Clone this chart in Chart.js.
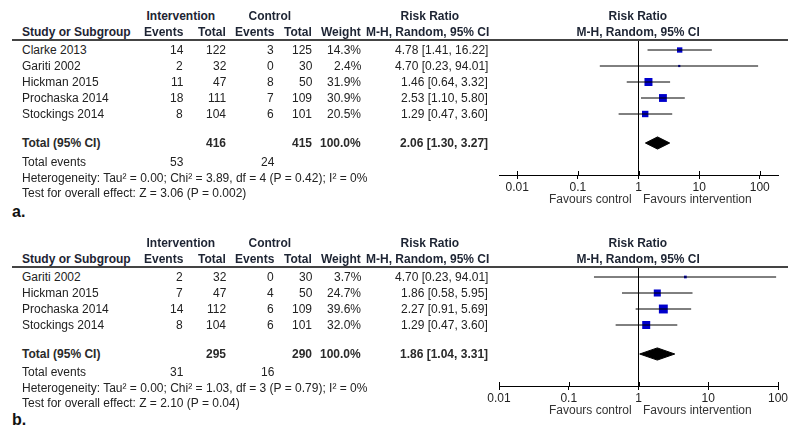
<!DOCTYPE html>
<html>
<head>
<meta charset="utf-8">
<script src="https://cdn.jsdelivr.net/npm/chart.js@4.4.1/dist/chart.umd.min.js"></script>
<style>
  html, body { margin:0; padding:0; background:#fff; }
  body { width:800px; height:438px; position:relative; overflow:hidden;
         font-family:"Liberation Sans", Arial, sans-serif; font-size:12px; color:#222; }
  .t { position:absolute; white-space:nowrap; line-height:14px; height:14px; }
  .b { font-weight:bold; }
  .hl { position:absolute; height:2px; background:#444; }
  .lab { position:absolute; font-weight:bold; font-size:16px; line-height:18px; color:#111; }
  canvas { position:absolute; }
</style>
</head>
<body>
<canvas id="chartA" width="320" height="220" style="left:480px;top:0px;"></canvas>
<canvas id="chartB" width="320" height="218" style="left:480px;top:220px;"></canvas>
<script>
// ---------- Panel a data ----------
const studiesA    = ["Clarke 2013", "Gariti 2002", "Hickman 2015", "Prochaska 2014", "Stockings 2014"];
const intEventsA  = [14, 2, 11, 18, 8];
const intTotalA   = [122, 32, 47, 111, 104];
const ctrlEventsA = [3, 0, 8, 7, 6];
const ctrlTotalA  = [125, 30, 50, 109, 101];
const weightA     = [14.3, 2.4, 31.9, 30.9, 20.5];
const rrA         = [4.78, 4.70, 1.46, 2.53, 1.29];
const loA         = [1.41, 0.23, 0.64, 1.10, 0.47];
const hiA         = [16.22, 94.01, 3.32, 5.80, 3.60];
const pooledA     = [2.06, 1.30, 3.27];           // estimate, lower, upper
const totalsA     = [416, 415];                   // intervention, control
const totalEventsA = [53, 24];
const hetA  = "Heterogeneity: Tau\u00b2 = 0.00; Chi\u00b2 = 3.89, df = 4 (P = 0.42); I\u00b2 = 0%";
const testA = "Test for overall effect: Z = 3.06 (P = 0.002)";

// ---------- Panel b data ----------
const studiesB    = ["Gariti 2002", "Hickman 2015", "Prochaska 2014", "Stockings 2014"];
const intEventsB  = [2, 7, 14, 8];
const intTotalB   = [32, 47, 112, 104];
const ctrlEventsB = [0, 4, 6, 6];
const ctrlTotalB  = [30, 50, 109, 101];
const weightB     = [3.7, 24.7, 39.6, 32.0];
const rrB         = [4.70, 1.86, 2.27, 1.29];
const loB         = [0.23, 0.58, 0.91, 0.47];
const hiB         = [94.01, 5.95, 5.69, 3.60];
const pooledB     = [1.86, 1.04, 3.31];
const totalsB     = [295, 290];
const totalEventsB = [31, 16];
const hetB  = "Heterogeneity: Tau\u00b2 = 0.00; Chi\u00b2 = 1.03, df = 3 (P = 0.79); I\u00b2 = 0%";
const testB = "Test for overall effect: Z = 2.10 (P = 0.04)";

const tickValues = [0.01, 0.1, 1, 10, 100];
const favourLabels = ["Favours control", "Favours intervention"];

// ---------- helpers ----------
function txt(s, x, y, align, bold, color) {
  const d = document.createElement('div');
  d.className = 't' + (bold ? ' b' : '');
  d.textContent = s;
  d.style.top = (y - 7) + 'px';
  if (color) d.style.color = color;
  document.body.appendChild(d);
  if (align === 'right') d.style.left = (x - d.offsetWidth) + 'px';
  else if (align === 'center') d.style.left = (x - d.offsetWidth / 2) + 'px';
  else d.style.left = x + 'px';
  return d;
}
const fmtCI = (r, l, h) => r.toFixed(2) + " [" + l.toFixed(2) + ", " + h.toFixed(2) + "]";

function buildTable(p, L) {
  const hc = '#1d2433';
  txt("Intervention", 181, L.h1, 'center', true, hc);
  txt("Control", 270, L.h1, 'center', true, hc);
  txt("Risk Ratio", 430, L.h1, 'center', true, hc);
  txt("Risk Ratio", 638, L.h1, 'center', true, hc);
  txt("Study or Subgroup", 22, L.h2, 'left', true, hc);
  txt("Events", 183, L.h2, 'right', true, hc);
  txt("Total", 226, L.h2, 'right', true, hc);
  txt("Events", 274, L.h2, 'right', true, hc);
  txt("Total", 312, L.h2, 'right', true, hc);
  txt("Weight", 361, L.h2, 'right', true, hc);
  txt("M-H, Random, 95% CI", 489, L.h2, 'right', true, hc);
  txt("M-H, Random, 95% CI", 638, L.h2, 'center', true, hc);
  const line = document.createElement('div');
  line.className = 'hl';
  line.style.left = '12px'; line.style.width = '776px'; line.style.top = (L.line - 1) + 'px';
  document.body.appendChild(line);
  p.studies.forEach((s, i) => {
    const y = L.row0 + 16 * i;
    txt(s, 22, y, 'left');
    txt(String(p.intEvents[i]), 183, y, 'right');
    txt(String(p.intTotal[i]), 226, y, 'right');
    txt(String(p.ctrlEvents[i]), 274, y, 'right');
    txt(String(p.ctrlTotal[i]), 312, y, 'right');
    txt(p.weight[i].toFixed(1) + "%", 361, y, 'right');
    txt(fmtCI(p.rr[i], p.lo[i], p.hi[i]), 488, y, 'right');
  });
  const tc = '#2a2a2a';
  txt("Total (95% CI)", 22, L.total, 'left', true, tc);
  txt(String(p.totals[0]), 226, L.total, 'right', true, tc);
  txt(String(p.totals[1]), 312, L.total, 'right', true, tc);
  txt("100.0%", 361, L.total, 'right', true, tc);
  txt(fmtCI(p.pooled[0], p.pooled[1], p.pooled[2]), 488, L.total, 'right', true, tc);
  txt("Total events", 22, L.tev, 'left');
  txt(String(p.totalEvents[0]), 183, L.tev, 'right');
  txt(String(p.totalEvents[1]), 274, L.tev, 'right');
  txt(p.het, 22, L.het, 'left');
  txt(p.test, 22, L.test, 'left');
  txt(favourLabels[0], 632, L.fav, 'right', false, '#333');
  txt(favourLabels[1], 643, L.fav, 'left', false, '#333');
  const lab = document.createElement('div');
  lab.className = 'lab'; lab.textContent = L.label;
  lab.style.left = '12px'; lab.style.top = (L.labY - 9) + 'px';
  document.body.appendChild(lab);
}

// tick marks that also reach above the axis line (as in RevMan plots)
const upTicks = {
  id: 'upTicks',
  afterDraw(chart) {
    const s = chart.scales.x, ctx = chart.ctx, y = chart.chartArea.bottom;
    ctx.save();
    ctx.strokeStyle = '#000'; ctx.lineWidth = 1;
    s.ticks.forEach(t => {
      const x = Math.round(s.getPixelForValue(t.value)) + 0.5;
      ctx.beginPath(); ctx.moveTo(x, y - 4); ctx.lineTo(x, y); ctx.stroke();
    });
    ctx.restore();
  }
};

function buildChart(id, p, C) {
  const n = p.studies.length;
  const yTot = n + 0.8125;
  const datasets = [];
  // line of no effect
  datasets.push({ data: [{x: 1, y: C.yMin}, {x: 1, y: C.yMax}], borderColor: '#000',
                  borderWidth: 1, pointRadius: 0, showLine: true });
  // confidence intervals
  p.studies.forEach((s, i) => {
    datasets.push({ data: [{x: p.lo[i], y: i}, {x: p.hi[i], y: i}], borderColor: '#000',
                    borderWidth: 1, pointRadius: 0, showLine: true });
  });
  // study estimates (square size by weight)
  datasets.push({ data: p.rr.map((v, i) => ({x: v, y: i})), showLine: false,
                  pointStyle: 'rect', pointRadius: p.weight.map(w => Math.sqrt(w)),
                  backgroundColor: '#0000cc', borderColor: '#0000cc', borderWidth: 0 });
  // pooled diamond
  const h = 0.38;
  datasets.push({ data: [
      {x: p.pooled[1], y: yTot}, {x: p.pooled[0], y: yTot - h},
      {x: p.pooled[2], y: yTot}, {x: p.pooled[0], y: yTot + h},
      {x: p.pooled[1], y: yTot}],
    showLine: true, fill: 'shape', backgroundColor: '#000', borderColor: '#000',
    borderWidth: 1, pointRadius: 0 });

  return new Chart(document.getElementById(id), {
    type: 'line',
    data: { datasets },
    plugins: [upTicks],
    options: {
      responsive: false, animation: false, devicePixelRatio: 1,
      layout: { padding: { left: C.padL, right: C.padR, top: C.padT, bottom: C.padB } },
      plugins: { legend: { display: false }, tooltip: { enabled: false } },
      elements: { line: { tension: 0 } },
      scales: {
        x: {
          type: 'logarithmic', min: C.xMin, max: C.xMax, position: 'bottom',
          afterBuildTicks: s => { s.ticks = tickValues.map(v => ({ value: v })); },
          afterFit: s => { s.height = 30; },
          ticks: { callback: v => String(v), color: '#222', autoSkip: false, maxRotation: 0,
                   padding: 1, font: { family: '"Liberation Sans", Arial', size: 12 } },
          grid: { drawOnChartArea: false, drawTicks: true, tickLength: 4, color: '#000' },
          border: { display: true, color: '#000', width: 1 }
        },
        y: { type: 'linear', reverse: true, min: C.yMin, max: C.yMax, display: false }
      }
    }
  });
}

const panelA = { studies: studiesA, intEvents: intEventsA, intTotal: intTotalA, ctrlEvents: ctrlEventsA,
  ctrlTotal: ctrlTotalA, weight: weightA, rr: rrA, lo: loA, hi: hiA, pooled: pooledA,
  totals: totalsA, totalEvents: totalEventsA, het: hetA, test: testA };
const panelB = { studies: studiesB, intEvents: intEventsB, intTotal: intTotalB, ctrlEvents: ctrlEventsB,
  ctrlTotal: ctrlTotalB, weight: weightB, rr: rrB, lo: loB, hi: hiB, pooled: pooledB,
  totals: totalsB, totalEvents: totalEventsB, het: hetB, test: testB };

buildTable(panelA, { h1: 16, h2: 32, line: 40, row0: 50, total: 143, tev: 162, het: 178, test: 193,
                     fav: 199, label: "a.", labY: 212 });
buildTable(panelB, { h1: 243, h2: 259, line: 267, row0: 277, total: 354, tev: 372, het: 388, test: 403,
                     fav: 410, label: "b.", labY: 420 });

buildChart('chartA', panelA, { xMin: 0.005, xMax: 200, padL: 19, padR: 22, padT: 40, padB: 15,
                               yMin: -0.625, yMax: 7.8125 });
buildChart('chartB', panelB, { xMin: 0.01, xMax: 100, padL: 19, padR: 22, padT: 47, padB: 22,
                               yMin: -0.625, yMax: 6.8125 });
</script>
</body>
</html>
